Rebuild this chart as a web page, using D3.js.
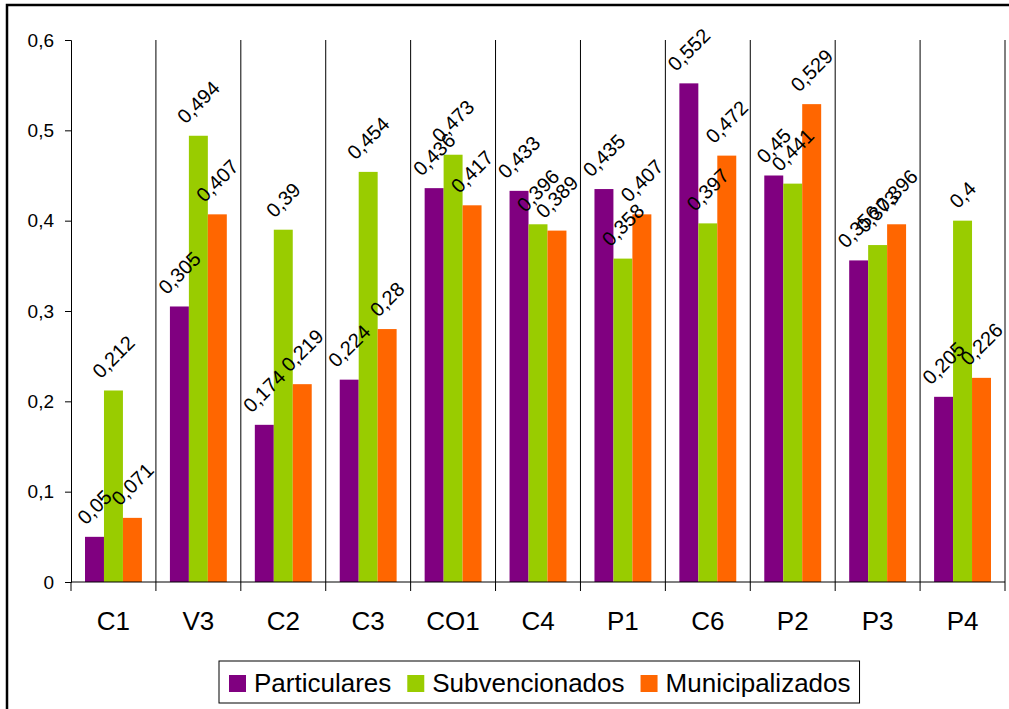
<!DOCTYPE html>
<html>
<head>
<meta charset="utf-8">
<script src="https://cdn.jsdelivr.net/npm/d3@7"></script>
<style>
  body { margin: 0; background: #fff; }
  svg { display: block; font-family: "Liberation Sans", Arial, sans-serif; }
</style>
</head>
<body>
<div id="chart"></div>
<script>
// chart data
var categories = ["C1", "V3", "C2", "C3", "CO1", "C4", "P1", "C6", "P2", "P3", "P4"];
var seriesNames = ["Particulares", "Subvencionados", "Municipalizados"];
var particulares    = [0.05, 0.305, 0.174, 0.224, 0.436, 0.433, 0.435, 0.552, 0.45, 0.356, 0.205];
var subvencionados  = [0.212, 0.494, 0.39, 0.454, 0.473, 0.396, 0.358, 0.397, 0.441, 0.373, 0.4];
var municipalizados = [0.071, 0.407, 0.219, 0.28, 0.417, 0.389, 0.407, 0.472, 0.529, 0.396, 0.226];
var yTicks = [0, 0.1, 0.2, 0.3, 0.4, 0.5, 0.6];

var seriesValues = [particulares, subvencionados, municipalizados];
var colors = ["#800080", "#99CC00", "#FF6600"];

var w = 1009, h = 709;
var plotLeft = 71, plotRight = 1005, plotTop = 40, plotBottom = 582;

var svg = d3.select("#chart").append("svg")
    .attr("width", w)
    .attr("height", h);

// outer frame (right/bottom edges fall outside the picture)
svg.append("rect")
    .attr("x", 7).attr("y", 5)
    .attr("width", 1020).attr("height", 720)
    .attr("fill", "none")
    .attr("stroke", "#000")
    .attr("stroke-width", 2.5);

var y = d3.scaleLinear().domain([0, 0.6]).range([plotBottom, plotTop]);

var x = d3.scaleBand()
    .domain(categories)
    .range([plotLeft, plotRight])
    .paddingInner(0.33)
    .paddingOuter(0.165);

var xSeries = d3.scaleBand()
    .domain(d3.range(seriesNames.length))
    .range([0, x.bandwidth()]);

var step = x.step();

// vertical gridlines between categories
var bounds = d3.range(1, categories.length + 1).map(function (i) { return plotLeft + i * step; });
svg.selectAll("line.grid")
    .data(bounds)
    .enter().append("line")
    .attr("class", "grid")
    .attr("x1", function (d) { return d; })
    .attr("x2", function (d) { return d; })
    .attr("y1", plotTop)
    .attr("y2", plotBottom)
    .attr("stroke", "#000")
    .attr("stroke-width", 1);

// bars
var groups = svg.selectAll("g.cat")
    .data(categories)
    .enter().append("g")
    .attr("class", "cat")
    .attr("transform", function (d) { return "translate(" + x(d) + ",0)"; });

groups.each(function (cat, ci) {
    var g = d3.select(this);
    seriesValues.forEach(function (vals, si) {
        var v = vals[ci];
        g.append("rect")
            .attr("x", xSeries(si))
            .attr("y", y(v))
            .attr("width", xSeries.bandwidth())
            .attr("height", plotBottom - y(v))
            .attr("fill", colors[si]);
    });
});

// data labels, rotated -45deg above each bar
groups.each(function (cat, ci) {
    var g = d3.select(this);
    seriesValues.forEach(function (vals, si) {
        var v = vals[ci];
        var cx = xSeries(si) + xSeries.bandwidth() / 2;
        var t = g.append("text")
            .attr("text-anchor", "middle")
            .attr("dominant-baseline", "central")
            .attr("font-size", 20)
            .attr("fill", "#000")
            .text(String(v).replace(".", ","));
        var len = t.node().getComputedTextLength();
        var off = len * 0.3535 + 16;
        t.attr("transform", "translate(" + cx + "," + (y(v) - off) + ") rotate(-45)");
    });
});

// y axis
var yAxis = d3.axisLeft(y)
    .tickValues(yTicks)
    .tickSize(6)
    .tickPadding(11)
    .tickFormat(function (d) { return d === 0 ? "0" : d3.format(".1f")(d).replace(".", ","); });

var yg = svg.append("g")
    .attr("transform", "translate(" + plotLeft + ",0)")
    .call(yAxis);
yg.select(".domain").attr("stroke", "#000");
yg.selectAll("text").attr("font-size", 19).attr("fill", "#000").attr("font-family", "Liberation Sans, Arial, sans-serif");

// x axis baseline + ticks at category boundaries
svg.append("line")
    .attr("x1", plotLeft).attr("x2", plotRight)
    .attr("y1", plotBottom).attr("y2", plotBottom)
    .attr("stroke", "#000");

svg.selectAll("line.xtick")
    .data([plotLeft].concat(bounds))
    .enter().append("line")
    .attr("class", "xtick")
    .attr("x1", function (d) { return d; })
    .attr("x2", function (d) { return d; })
    .attr("y1", plotBottom)
    .attr("y2", plotBottom + 9)
    .attr("stroke", "#000");

svg.selectAll("text.catlabel")
    .data(categories)
    .enter().append("text")
    .attr("class", "catlabel")
    .attr("x", function (d) { return x(d) + x.bandwidth() / 2; })
    .attr("y", 630)
    .attr("text-anchor", "middle")
    .attr("font-size", 26)
    .attr("fill", "#000")
    .text(function (d) { return d; });

// legend
var legend = svg.append("g");
var lx = 229, ly = 683;
var box = legend.append("rect")
    .attr("y", 661)
    .attr("height", 42)
    .attr("fill", "#fff")
    .attr("stroke", "#000")
    .attr("stroke-width", 1);

seriesNames.forEach(function (name, i) {
    legend.append("rect")
        .attr("x", lx)
        .attr("y", 675)
        .attr("width", 17)
        .attr("height", 17)
        .attr("fill", colors[i]);
    var t = legend.append("text")
        .attr("x", lx + 25)
        .attr("y", ly)
        .attr("dominant-baseline", "central")
        .attr("font-size", 26)
        .attr("fill", "#000")
        .text(name);
    var len = t.node().getComputedTextLength();
    lx = lx + 25 + len + (i < seriesNames.length - 1 ? 16 : 0);
});
box.attr("x", 219).attr("width", lx + 9 - 219);
</script>
</body>
</html>
